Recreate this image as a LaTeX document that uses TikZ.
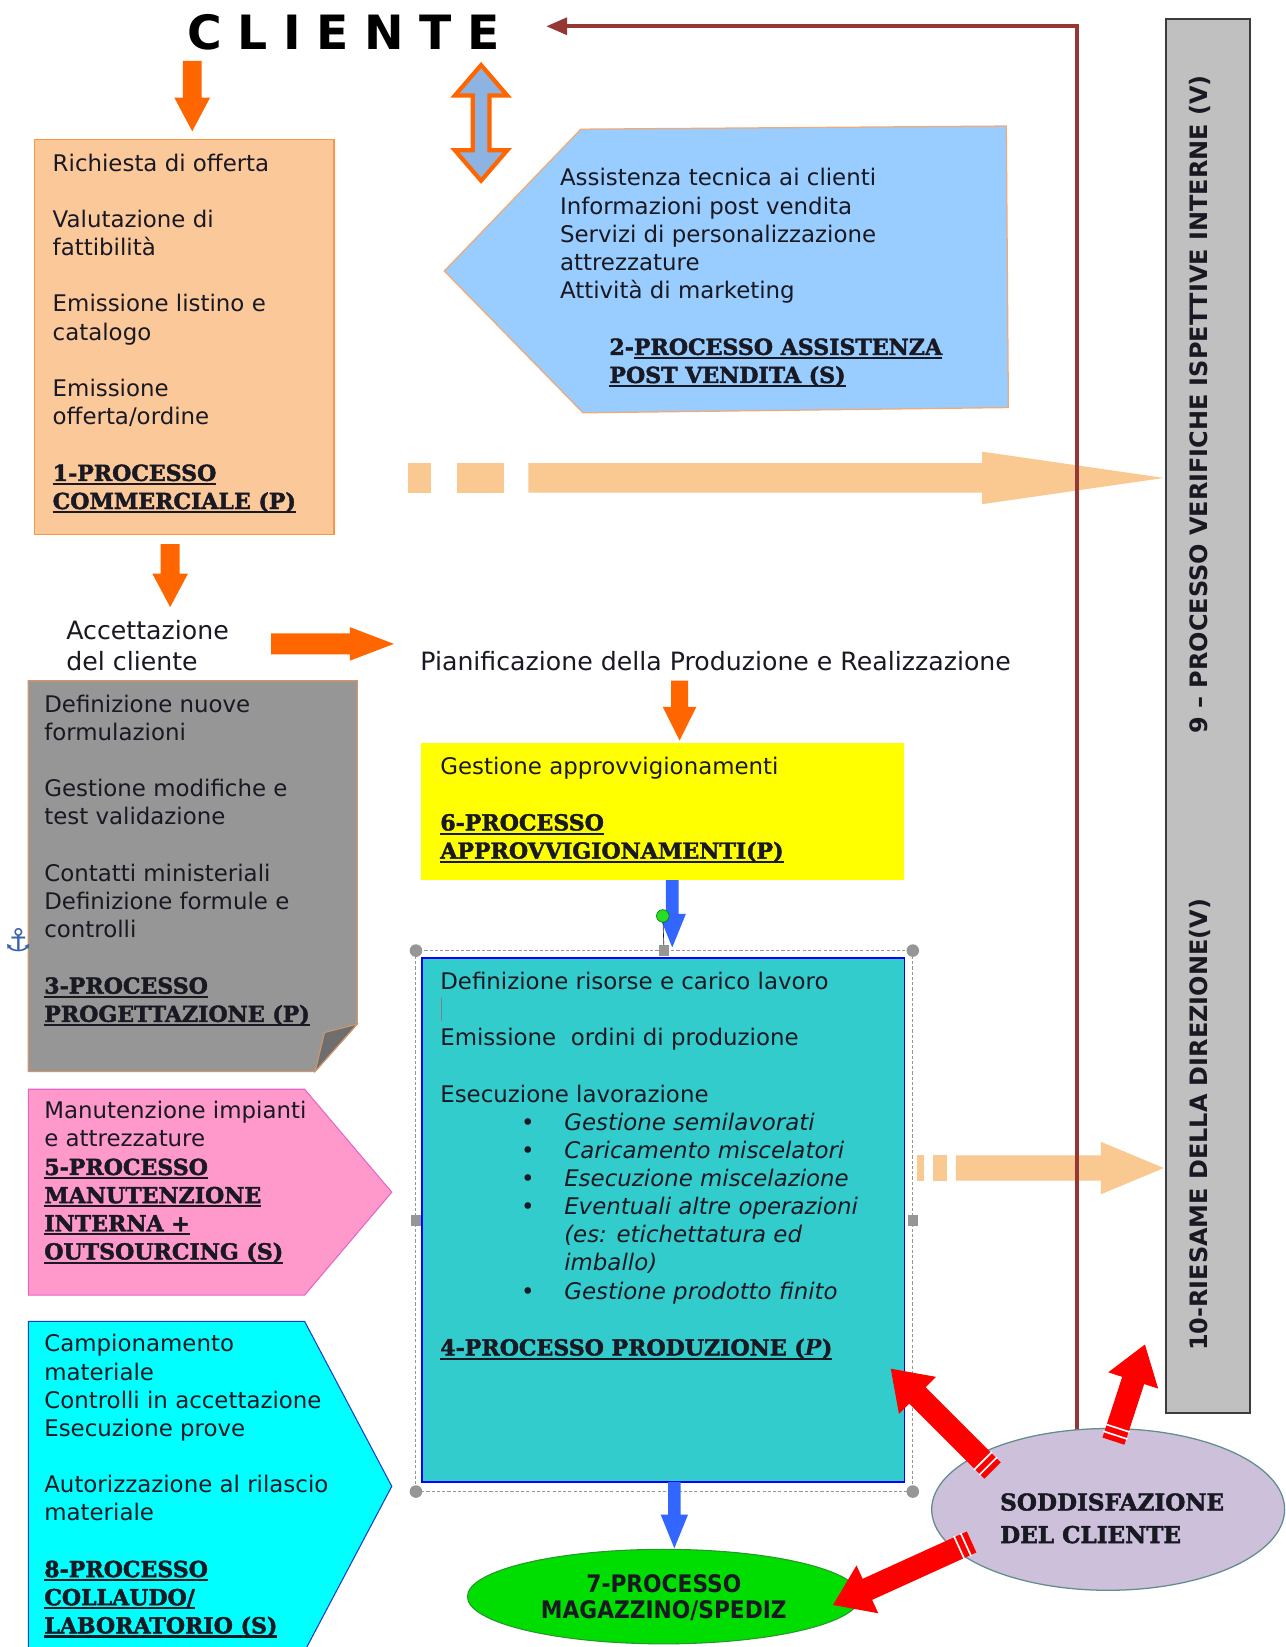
\documentclass[tikz,border=0pt]{standalone}
\usepackage{fontspec}
\setmainfont{DejaVu Sans}
\newfontfamily\serifb{DejaVu Serif}[BoldFeatures={FakeBold=2}]
\newfontfamily\condb{DejaVu Sans}[FakeStretch=0.9]
\newfontfamily\clfont{DejaVu Sans}[LetterSpace=33]
\usetikzlibrary{arrows.meta,shapes.geometric}

\definecolor{ink}{RGB}{25,25,35}
\definecolor{peachbox}{RGB}{251,200,154}
\definecolor{orangeb}{RGB}{247,150,70}
\definecolor{lblue}{RGB}{153,204,255}
\definecolor{peachb}{RGB}{240,170,120}
\definecolor{arrorange}{RGB}{255,102,0}
\definecolor{dblblue}{RGB}{141,179,226}
\definecolor{peacharr}{RGB}{250,200,145}
\definecolor{maroonl}{RGB}{149,55,53}
\definecolor{vgray}{RGB}{192,192,192}
\definecolor{vborder}{RGB}{60,60,60}
\definecolor{graybox}{RGB}{150,150,150}
\definecolor{grayb}{RGB}{210,150,110}
\definecolor{flapc}{RGB}{110,110,110}
\definecolor{pinkf}{RGB}{255,153,204}
\definecolor{pinkb}{RGB}{230,100,200}
\definecolor{cyanf}{RGB}{0,255,255}
\definecolor{cyanb}{RGB}{30,60,200}
\definecolor{yel}{RGB}{255,255,0}
\definecolor{tealf}{RGB}{51,204,204}
\definecolor{tealb}{RGB}{0,0,255}
\definecolor{greenf}{RGB}{0,221,0}
\definecolor{greenb}{RGB}{40,150,40}
\definecolor{lav}{RGB}{204,192,218}
\definecolor{lavb}{RGB}{100,140,140}
\definecolor{redarr}{RGB}{255,0,0}
\definecolor{blarr}{RGB}{51,102,255}
\definecolor{handle}{RGB}{150,150,150}
\definecolor{anchorblue}{RGB}{60,100,170}
\definecolor{greendot}{RGB}{40,220,40}

\newcommand\ulx[1]{\setbox0=\hbox{#1}\rlap{\rule[-4pt]{\wd0}{2pt}}\box0}
\newcommand\bodyf{\fontsize{21.8}{26.8}\selectfont}
\newcommand\bigf{\fontsize{24}{29}\selectfont}
\newcommand\titf{\serifb\bfseries\fontsize{21}{26.8}\selectfont}
\newcommand\vfont{\bfseries\fontsize{22.8}{26}\selectfont}

% lines of text: #1 prefix, #2 x, #3 centre y of line 0, #4 font, #5 list index/text
\newcommand\txtlines[5]{%
  \foreach \i/\t in {#5} {%
    \node[anchor=base west,inner sep=0,font=#4,text=ink] (#1-\i) at (#2,{#3+7+\i*26.8}) {\t};
  }}

% block arrow: #1 style, #2 x1, #3 y1, #4 x2, #5 y2, #6 shaft half, #7 head half, #8 head length
\newcommand\barrow[8]{%
  \pgfmathsetmacro\BAdx{#4-#2}%
  \pgfmathsetmacro\BAdy{#5-#3}%
  \pgfmathsetmacro\BAlen{veclen(\BAdx,\BAdy)}%
  \pgfmathsetmacro\BAang{atan2(-\BAdy,\BAdx)}%
  \pgfmathsetmacro\BAb{\BAlen-#8}%
  \begin{scope}[shift={(#2,#3)},rotate=\BAang]
    \path[#1] (0,-#6) -- (\BAb,-#6) -- (\BAb,-#7) -- (\BAlen,0) -- (\BAb,#7) -- (\BAb,#6) -- (0,#6) -- cycle;
  \end{scope}}

% red striped arrow
\newcommand\rarrow[4]{%
  \pgfmathsetmacro\BAdx{#3-#1}%
  \pgfmathsetmacro\BAdy{#4-#2}%
  \pgfmathsetmacro\BAlen{veclen(\BAdx,\BAdy)}%
  \pgfmathsetmacro\BAang{atan2(-\BAdy,\BAdx)}%
  \pgfmathsetmacro\BAb{\BAlen-36}%
  \begin{scope}[shift={(#1,#2)},rotate=\BAang]
    \fill[redarr] (0,-11) -- (\BAb,-11) -- (\BAb,-25) -- (\BAlen,0) -- (\BAb,25) -- (\BAb,11) -- (0,11) -- cycle;
    \draw[white,line width=1.6] (6,-12) -- (6,12) (13,-12) -- (13,12);
  \end{scope}}

\tikzset{
  orangearrow/.style={fill=arrorange},
  bluearrow/.style={fill=blarr},
  peacharrow/.style={fill=peacharr},
}

\begin{document}
\begin{tikzpicture}[x=1pt,y=-1pt,line join=miter]
\useasboundingbox (0,0) rectangle (1224,1568);
\fill[white] (0,0) rectangle (1224,1568);
\clip (0,0) rectangle (1224,1568);

% ---------- vertical gray box ----------
\draw[fill=vgray,draw=vborder,line width=1.5] (1110,18) rectangle (1190,1345);
\node[rotate=90,font=\vfont,text=ink,inner sep=0] (t9) at (1142,385) {9 – PROCESSO VERIFICHE ISPETTIVE INTERNE (V)};
\node[rotate=90,font=\vfont,text=ink,inner sep=0] (t10) at (1142,1071) {10-RIESAME DELLA DIREZIONE(V)};

% ---------- CLIENTE ----------
\node[anchor=base west,inner sep=0,font=\clfont\bfseries\fontsize{45}{45}\selectfont,text=black] (cl) at (178,47) {CLIENTE};
\barrow{orangearrow}{183}{58}{183}{125}{9}{17}{32}

% double arrow
\draw[fill=dblblue,draw=arrorange,line width=4] (458,62) -- (483,91) -- (466,91) -- (466,143) -- (483,143) -- (458,172) -- (433,143) -- (450,143) -- (450,91) -- (433,91) -- cycle;

% ---------- box 1 ----------
\draw[fill=peachbox,draw=orangeb,line width=1.5] (33,133) rectangle (318,509);
\txtlines{b1}{50}{156}{\bodyf}{0/Richiesta di offerta,2/Valutazione di,3/fattibilità,5/Emissione listino e,6/catalogo,8/Emissione,9/{offerta/ordine},11/{\titf\ulx{1-PROCESSO}},12/{\titf\ulx{COMMERCIALE (P)}}}

% ---------- box 2 (blue pentagon) ----------
\draw[fill=lblue,draw=peachb,line width=1.2] (423,258) -- (553,123) -- (958,120) -- (960,388) -- (555,393) -- cycle;
\txtlines{b2}{533}{170}{\bodyf}{0/Assistenza tecnica ai clienti,1/Informazioni post vendita,2/Servizi di personalizzazione,3/attrezzature,4/Attività di marketing}
\txtlines{b2t}{580}{170}{\titf}{6/{2-\ulx{PROCESSO ASSISTENZA}},7/{\ulx{POST VENDITA (S)}}}

% ---------- peach dashed arrow 1 ----------
\fill[peacharr] (388,441) rectangle (410,469);
\fill[peacharr] (435,441) rectangle (480,469);
\barrow{peacharrow}{503}{455}{1108}{455}{14}{25}{173}

% ---------- peach dashed arrow 2 ----------
\fill[peacharr] (873,1100) rectangle (880,1124);
\fill[peacharr] (888,1100) rectangle (902,1124);
\barrow{peacharrow}{910}{1112}{1108}{1112}{12}{25}{60}

% ---------- maroon feedback line ----------
\draw[maroonl,line width=4,-{Triangle[length=20,width=16]}] (1025,1362) -- (1025,25) -- (520,25);

% ---------- acceptance ----------
\barrow{orangearrow}{162}{518}{162}{578}{9}{17}{32}
\node[anchor=base west,inner sep=0,font=\bigf,text=ink] (acc1) at (63,609) {Accettazione};
\node[anchor=base west,inner sep=0,font=\bigf,text=ink] (acc2) at (63,638) {del cliente};
\barrow{orangearrow}{258}{613}{375}{613}{10}{16}{42}
\node[anchor=base west,inner sep=0,font=\bigf,text=ink] (pian) at (400,638) {Pianificazione della Produzione e Realizzazione};
\barrow{orangearrow}{647}{648}{647}{705}{8}{16}{32}

% ---------- box 6 yellow ----------
\fill[yel] (401,707) rectangle (861,838);
\txtlines{b6}{419}{730}{\bodyf}{0/Gestione approvvigionamenti,2/{\titf\ulx{6-PROCESSO}},3/{\titf\ulx{APPROVVIGIONAMENTI(P)}}}
\barrow{bluearrow}{640}{838}{640}{902}{6}{13}{32}

% ---------- box 3 gray folded ----------
\draw[fill=graybox,draw=grayb,line width=1.2] (27,648) -- (340,648) -- (340,975) -- (300,1020) -- (27,1020) -- cycle;
\draw[fill=flapc,draw=grayb,line width=1] (340,975) -- (300,1020) -- (309,983) -- cycle;
\txtlines{b3}{42}{671}{\bodyf}{0/Definizione nuove,1/formulazioni,3/Gestione modifiche e,4/test validazione,6/Contatti ministeriali,7/Definizione formule e,8/controlli,10/{\titf\ulx{3-PROCESSO}},11/{\titf\ulx{PROGETTAZIONE (P)}}}
\node[text=anchorblue,font=\fontsize{30}{30}\selectfont,inner sep=0] (anc) at (18,895) {⚓};

% ---------- box 5 pink ----------
\draw[fill=pinkf,draw=pinkb,line width=1] (27,1037) -- (290,1037) -- (373,1135) -- (290,1233) -- (27,1233) -- cycle;
\txtlines{b5}{42}{1058}{\bodyf}{0/Manutenzione impianti,1/e attrezzature,2/{\titf\ulx{5-PROCESSO}},3/{\titf\ulx{MANUTENZIONE}},4/{\titf\ulx{INTERNA +}},5/{\titf\ulx{OUTSOURCING (S)}}}

% ---------- box 8 cyan ----------
\draw[fill=cyanf,draw=cyanb,line width=1] (27,1258) -- (290,1258) -- (373,1415) -- (290,1572) -- (27,1572) -- cycle;
\txtlines{b8}{42}{1280}{\bodyf}{0/Campionamento,1/materiale,2/Controlli in accettazione,3/Esecuzione prove,5/Autorizzazione al rilascio,6/materiale,8/{\titf\ulx{8-PROCESSO}},9/{\titf\ulx{COLLAUDO/}},10/{\titf\ulx{LABORATORIO (S)}}}

% ---------- box 4 teal ----------
\draw[fill=tealf,draw=tealb,line width=1.5] (402,912) rectangle (861,1411);
\draw[handle,line width=1,dash pattern=on 3pt off 2pt] (396,905) rectangle (869,1420);
\foreach \p in {(396,905),(869,905),(396,1420),(869,1420)} \fill[handle] \p circle (6);
\fill[handle] (627,900) rectangle (637,910);
\fill[handle] (391,1157) rectangle (401,1167);
\fill[handle] (864,1157) rectangle (874,1167);
\draw[ink,line width=0.6] (631,872) -- (632,900);
\draw[fill=greendot,draw=green!50!black,line width=0.6] (631,872) circle (6);
\draw[gray,line width=1] (420,950) -- (420,972);
\txtlines{b4}{419}{935}{\bodyf}{0/Definizione risorse e carico lavoro,2/Emissione\ \ ordini di produzione,4/Esecuzione lavorazione}
\txtlines{b4i}{537}{935}{\bodyf\itshape}{5/Gestione semilavorati,6/Caricamento miscelatori,7/Esecuzione miscelazione,8/Eventuali altre operazioni,9/(es: etichettatura ed,10/imballo),11/Gestione prodotto finito}
\txtlines{b4b}{496}{935}{\bodyf}{5/•,6/•,7/•,8/•,11/•}
\txtlines{b4t}{419}{935}{\titf}{13/{\ulx{4-PROCESSO PRODUZIONE (\textit{P})}}}

% ---------- box 7 green ellipse ----------
\barrow{bluearrow}{642}{1411}{642}{1474}{6}{13}{32}
\node[ellipse,fill=greenf,draw=greenb,line width=1,minimum width=374,minimum height=90,inner sep=0] (e7) at (632,1520) {};
\node[font=\condb\bfseries\fontsize{23}{25}\selectfont,text=ink,align=center,inner sep=0] (e7t) at (632,1521) {7-PROCESSO\\MAGAZZINO/SPEDIZ};

% ---------- soddisfazione ----------
\node[ellipse,fill=lav,draw=lavb,line width=1.2,minimum width=336,minimum height=154,inner sep=0] (sod) at (1055,1437) {};
\node[anchor=base west,inner sep=0,font=\serifb\bfseries\fontsize{22}{30}\selectfont,text=ink] (sod1) at (952,1438) {SODDISFAZIONE};
\node[anchor=base west,inner sep=0,font=\serifb\bfseries\fontsize{22}{30}\selectfont,text=ink] (sod2) at (952,1469) {DEL CLIENTE};

% red arrows
\rarrow{945}{1400}{848}{1303}
\rarrow{1060}{1372}{1090}{1280}
\rarrow{925}{1468}{793}{1528}

\end{tikzpicture}
\end{document}
